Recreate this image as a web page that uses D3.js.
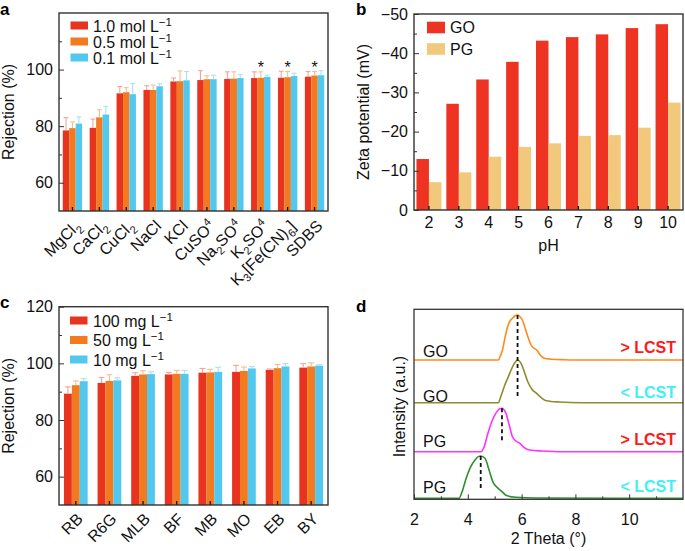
<!DOCTYPE html>
<html><head><meta charset="utf-8">
<script src="https://cdn.jsdelivr.net/npm/d3@7"></script>
<style>body{margin:0;background:#fff}svg{display:block}text{font-family:"Liberation Sans",Arial,Helvetica,sans-serif}</style>
</head><body><svg id="chart" width="685" height="551"></svg>
<script>
// ---------- Panel a data ----------
const saltLabels = ["MgCl_2","CaCl_2","CuCl_2","NaCl","KCl","CuSO^4","Na_2SO^4","K_2SO^4","K_3[Fe(CN)_6]","SDBS"];
const saltSeries = ["1.0 mol L","0.5 mol L","0.1 mol L"];
const salt10 = [78.5, 79.4, 91.6, 92.8, 95.8, 96.3, 96.7, 97.0, 97.1, 97.5];
const salt05 = [79.3, 83.1, 92.0, 92.8, 95.9, 96.6, 96.8, 97.1, 97.3, 97.9];
const salt01 = [80.9, 84.1, 91.3, 94.1, 96.2, 96.6, 97.0, 97.4, 97.7, 98.0];
const salt10Err = [4.5, 3.1, 2.4, 1.5, 1.2, 3.3, 2.5, 2.2, 2.3, 1.8];
const salt05Err = [2.2, 2.7, 1.6, 1.7, 3.6, 1.2, 2.4, 2.1, 2.0, 1.4];
const salt01Err = [2.4, 2.9, 3.8, 0.9, 3.1, 1.4, 1.2, 0.6, 1.0, 1.6];
const saltStars = ["K_2SO^4","K_3[Fe(CN)_6]","SDBS"];
const rejTicks = [60, 80, 100];
const rejMinor = [70, 90, 110];

// ---------- Panel b data ----------
const phValues = [2, 3, 4, 5, 6, 7, 8, 9, 10];
const zetaSeries = ["GO", "PG"];
const zetaGO = [-13.0, -27.1, -33.3, -37.8, -43.2, -44.1, -44.8, -46.4, -47.4];
const zetaPG = [-7.1, -9.6, -13.6, -16.1, -17.0, -18.9, -19.1, -21.0, -27.4];
const zetaTicks = [0, -10, -20, -30, -40, -50];
const zetaMinor = [-5, -15, -25, -35, -45];

// ---------- Panel c data ----------
const dyeLabels = ["RB","R6G","MLB","BF","MB","MO","EB","BY"];
const dyeSeries = ["100 mg L","50 mg L","10 mg L"];
const dye100 = [89.3, 93.1, 95.6, 96.1, 96.7, 97.0, 97.7, 98.5];
const dye50  = [92.3, 93.8, 96.1, 96.3, 96.8, 97.3, 98.3, 98.9];
const dye10  = [93.7, 94.0, 96.2, 96.3, 97.0, 98.2, 98.9, 99.2];
const dye100Err = [2.4, 1.9, 1.1, 0.7, 1.5, 2.3, 0.3, 1.4];
const dye50Err  = [1.5, 2.2, 1.3, 1.2, 1.1, 1.4, 1.3, 1.3];
const dye10Err  = [0.9, 0.9, 0.8, 1.2, 1.6, 0.7, 1.0, 0.3];
const dyeTicks = [60, 80, 100, 120];
const dyeMinor = [70, 90, 110];

// ---------- Panel d data ----------
const xrdNames = ["GO", "GO", "PG", "PG"];
const xrdStates = ["> LCST", "< LCST", "> LCST", "< LCST"];
const xrdOffsets = [13.93, 9.66, 4.76, 0.1];
const xrdGOabove = [[2,0],[5.14,0],[5.2,0.35],[5.29,1.0],[5.38,2.2],[5.48,3.33],[5.57,3.9],[5.66,4.17],[5.76,4.42],[5.85,4.5],[5.95,4.3],[6.04,3.93],[6.12,3.3],[6.19,2.67],[6.27,2.05],[6.35,1.5],[6.45,1.2],[6.56,1.0],[6.62,0.8],[6.69,0.5],[6.77,0.3],[6.85,0.17],[7.1,0.08],[7.6,0.03],[8.2,0],[12,0]];
const xrdGObelow = [[2,0],[5.14,0],[5.2,0.4],[5.29,1.1],[5.38,1.8],[5.48,2.43],[5.61,3.27],[5.73,3.93],[5.85,4.27],[5.98,3.93],[6.1,3.1],[6.23,2.1],[6.39,1.33],[6.56,0.93],[6.73,0.5],[6.92,0.2],[7.41,0.07],[8.2,0],[12,0]];
const xrdPGabove = [[2,0],[4.48,0],[4.61,0.5],[4.73,1.67],[4.89,3.0],[5.04,3.83],[5.17,4.27],[5.27,4.33],[5.42,3.83],[5.54,2.67],[5.66,1.5],[5.79,1.07],[5.94,0.83],[6.1,0.4],[6.29,0.17],[6.78,0.07],[7.5,0],[12,0]];
const xrdPGbelow = [[2,0],[3.67,0],[3.79,0.67],[3.94,2.0],[4.11,3.17],[4.27,3.83],[4.39,4.17],[4.48,4.23],[4.64,4.0],[4.79,2.83],[4.94,1.6],[5.1,1.07],[5.27,0.67],[5.44,0.27],[5.79,0.1],[6.5,0.03],[12,0]];
const xrdCurves = [xrdGOabove, xrdGObelow, xrdPGabove, xrdPGbelow];
const dashX = [5.85, 5.27, 4.48];
const dashTop = [18.43, 9.1, 4.33];
const dashBottom = [10.26, 5.9, 1.1];
const thetaTicks = [2, 4, 6, 8, 10];
const thetaMinor = [3, 5, 7, 9, 11];

// ---------- styles ----------
const FONT = 16;
const barColors = ["#e8331f", "#f27b22", "#52c8ef"];
const errColors = ["#f4a39b", "#f8be8c", "#a7e1f6"];
const zetaColors = ["#ef3322", "#f2c97c"];
const xrdColors = ["#ff8a1c", "#8e8c2c", "#ff33ff", "#2f8f2f"];
const stateColors = ["#ff1a1a", "#3ff0f5", "#ff1a1a", "#3ff0f5"];
const frameColor = "#333";

const svg = d3.select("#chart");

function rich(sel, str, size) {
  // _x subscript, ^x superscript (single char)
  let i = 0, shift = 0;
  let buf = "";
  const flush = () => { if (buf) { sel.append("tspan").attr("dy", -shift).text(buf); shift = 0; buf = ""; } };
  while (i < str.length) {
    const ch = str[i];
    if ((ch === "_" || ch === "^") && i + 1 < str.length) {
      flush();
      const d = ch === "_" ? size * 0.3 : -size * 0.38;
      sel.append("tspan").attr("dy", d - shift).attr("font-size", size * 0.7).text(str[i + 1]);
      shift = d;
      i += 2;
    } else { buf += ch; i++; }
  }
  flush();
}

function frame(g, L, R, T, B, w) {
  g.append("rect").attr("x", L).attr("y", T).attr("width", R - L).attr("height", B - T)
    .attr("fill", "none").attr("stroke", frameColor).attr("stroke-width", w || 1.4);
}

function yAxisLin(g, y, L, ticks, minor, fmt) {
  const ax = g.append("g").attr("transform", `translate(${L},0)`)
    .call(d3.axisLeft(y).tickValues(ticks).tickSize(-5).tickPadding(6).tickFormat(fmt || d3.format("d")));
  ax.select(".domain").remove();
  ax.selectAll("text").attr("font-size", FONT).attr("fill", "#111").style("font-family", null);
  ax.selectAll("line").attr("stroke", frameColor);
  const mx = g.append("g").attr("transform", `translate(${L},0)`)
    .call(d3.axisLeft(y).tickValues(minor).tickSize(-3).tickFormat(""));
  mx.select(".domain").remove();
  mx.selectAll("line").attr("stroke", frameColor);
}

function groupedBarPanel(opt) {
  const g = svg.append("g");
  const { L, R, T, B } = opt;
  const y = d3.scaleLinear().domain(opt.ydom).range([B, T]);
  const x0 = d3.scaleBand().domain(opt.cats).range([L, R]).paddingInner(opt.pad).paddingOuter(opt.pad / 2);
  const x1 = d3.scaleBand().domain(d3.range(opt.series.length)).range([0, x0.bandwidth()]);
  opt.series.forEach((vals, s) => {
    g.selectAll(null).data(vals).join("rect")
      .attr("x", (d, i) => x0(opt.cats[i]) + x1(s))
      .attr("width", x1.bandwidth())
      .attr("y", d => y(d))
      .attr("height", d => y(opt.ydom[0]) - y(d))
      .attr("fill", opt.colors[s]);
  });
  if (opt.errs) opt.errs.forEach((errs, s) => {
    const vals = opt.series[s];
    const cw = x1.bandwidth() * 0.75;
    errs.forEach((e, i) => {
      const cx = x0(opt.cats[i]) + x1(s) + x1.bandwidth() / 2;
      g.append("line").attr("x1", cx).attr("x2", cx).attr("y1", y(vals[i])).attr("y2", y(vals[i] + e))
        .attr("stroke", opt.errColors[s]).attr("stroke-width", 1.1);
      g.append("line").attr("x1", cx - cw / 2).attr("x2", cx + cw / 2).attr("y1", y(vals[i] + e)).attr("y2", y(vals[i] + e))
        .attr("stroke", opt.errColors[s]).attr("stroke-width", 1.1);
    });
  });
  const xa = g.append("g").attr("transform", `translate(0,${B})`)
    .call(d3.axisBottom(x0).tickSize(-4).tickSizeOuter(0).tickFormat(""));
  xa.select(".domain").remove();
  xa.selectAll("line").attr("stroke", "#111").attr("stroke-width", 1.3);
  yAxisLin(g, y, L, opt.yticks, opt.yminor, opt.yfmt);
  frame(g, L, R, T, B);
  return { g, x0, y };
}

// ================= Panel a =================
{
  const L = 59, R = 328, T = 13, B = 211;
  const p = groupedBarPanel({ L, R, T, B, ydom: [50, 120], cats: saltLabels, pad: 0.28,
    series: [salt10, salt05, salt01], errs: [salt10Err, salt05Err, salt01Err],
    colors: barColors, errColors, yticks: rejTicks, yminor: rejMinor });
  const { g, x0 } = p;
  saltLabels.forEach(lab => {
    const cx = x0(lab) + x0.bandwidth() / 2;
    const t = g.append("text").attr("text-anchor", "end").attr("font-size", FONT).attr("fill", "#111")
      .attr("transform", `translate(${cx + 9},${B + 16}) rotate(-45)`);
    rich(t, lab, FONT);
  });
  saltStars.forEach(lab => {
    g.append("text").attr("x", x0(lab) + x0.bandwidth() / 2).attr("y", 73).attr("text-anchor", "middle")
      .attr("font-size", FONT).attr("fill", "#111").text("*");
  });
  saltSeries.forEach((s, i) => {
    const cy = 25.5 + i * 16;
    g.append("rect").attr("x", 70.5).attr("y", cy - 4).attr("width", 17.5).attr("height", 8).attr("fill", barColors[i]);
    const t = g.append("text").attr("x", 93).attr("y", cy + 6).attr("font-size", FONT).attr("fill", "#111");
    t.append("tspan").text(s);
    t.append("tspan").attr("dy", -6).attr("font-size", 11.5).text("−1");
  });
  g.append("text").attr("transform", `translate(14,${(T + B) / 2}) rotate(-90)`).attr("text-anchor", "middle")
    .attr("font-size", FONT).attr("fill", "#111").text("Rejection (%)");
  g.append("text").attr("x", 0).attr("y", 15).attr("font-size", 17).attr("font-weight", "bold").text("a");
}

// ================= Panel b =================
{
  const L = 414, R = 683, T = 14, B = 210;
  const g = svg.append("g");
  const y = d3.scaleLinear().domain([0, -50]).range([B, T]);
  const x0 = d3.scaleBand().domain(phValues).range([L, R]).paddingInner(0.164).paddingOuter(0.082);
  const x1 = d3.scaleBand().domain(zetaSeries).range([0, x0.bandwidth()]);
  [zetaGO, zetaPG].forEach((vals, s) => {
    g.selectAll(null).data(vals).join("rect")
      .attr("x", (d, i) => x0(phValues[i]) + x1(zetaSeries[s]))
      .attr("width", x1.bandwidth())
      .attr("y", d => y(d)).attr("height", d => y(0) - y(d))
      .attr("fill", zetaColors[s]);
  });
  const xa = g.append("g").attr("transform", `translate(0,${B})`)
    .call(d3.axisBottom(x0).tickSize(-4).tickSizeOuter(0).tickPadding(7));
  xa.select(".domain").remove();
  xa.selectAll("line").attr("stroke", "#111").attr("stroke-width", 1.3);
  xa.selectAll("text").attr("font-size", FONT).attr("fill", "#111").style("font-family", null);
  yAxisLin(g, y, L, zetaTicks, zetaMinor, d3.format("d"));
  frame(g, L, R, T, B);
  zetaSeries.forEach((s, i) => {
    const cy = [27.5, 49][i];
    g.append("rect").attr("x", 427).attr("y", cy - 5.8).attr("width", 18).attr("height", 11.6).attr("fill", zetaColors[i]);
    g.append("text").attr("x", 450).attr("y", cy + 5.8).attr("font-size", FONT).attr("fill", "#111").text(s);
  });
  g.append("text").attr("transform", `translate(369,${(T + B) / 2}) rotate(-90)`).attr("text-anchor", "middle")
    .attr("font-size", FONT).attr("fill", "#111").text("Zeta potential (mV)");
  g.append("text").attr("x", (L + R) / 2).attr("y", 251).attr("text-anchor", "middle")
    .attr("font-size", FONT).attr("fill", "#111").text("pH");
  g.append("text").attr("x", 356).attr("y", 15).attr("font-size", 17).attr("font-weight", "bold").text("b");
}

// ================= Panel c =================
{
  const L = 59, R = 328, T = 306.7, B = 505;
  const p = groupedBarPanel({ L, R, T, B, ydom: [50, 120], cats: dyeLabels, pad: 0.295,
    series: [dye100, dye50, dye10], errs: [dye100Err, dye50Err, dye10Err],
    colors: barColors, errColors, yticks: dyeTicks, yminor: dyeMinor });
  const { g, x0 } = p;
  dyeLabels.forEach(lab => {
    const cx = x0(lab) + x0.bandwidth() / 2;
    g.append("text").attr("text-anchor", "end").attr("font-size", FONT).attr("fill", "#111")
      .attr("transform", `translate(${cx + 8},${B + 15}) rotate(-45)`).text(lab);
  });
  dyeSeries.forEach((s, i) => {
    const cy = 320.5 + i * 19.5;
    g.append("rect").attr("x", 70).attr("y", cy - 4).attr("width", 17.5).attr("height", 8).attr("fill", barColors[i]);
    const t = g.append("text").attr("x", 93).attr("y", cy + 6).attr("font-size", FONT).attr("fill", "#111");
    t.append("tspan").text(s);
    t.append("tspan").attr("dy", -6).attr("font-size", 11.5).text("−1");
  });
  g.append("text").attr("transform", `translate(14,${(T + B) / 2}) rotate(-90)`).attr("text-anchor", "middle")
    .attr("font-size", FONT).attr("fill", "#111").text("Rejection (%)");
  g.append("text").attr("x", 0).attr("y", 308).attr("font-size", 17).attr("font-weight", "bold").text("c");
}

// ================= Panel d =================
{
  const L = 414, R = 683, T = 309.3, B = 499.3;
  const g = svg.append("g");
  const x = d3.scaleLinear().domain([2, 12]).range([L, R]);
  const y = d3.scaleLinear().domain([0, 19]).range([B, T]);
  const line = d3.line().x(d => x(d[0])).y(d => y(d[1])).curve(d3.curveMonotoneX);
  xrdCurves.forEach((pts, i) => {
    g.append("path").attr("d", line(pts.map(p => [p[0], p[1] + xrdOffsets[i]])))
      .attr("fill", "none").attr("stroke", xrdColors[i]).attr("stroke-width", 1.6);
  });
  dashX.forEach((dx, i) => {
    g.append("line").attr("x1", x(dx)).attr("x2", x(dx)).attr("y1", y(dashTop[i])).attr("y2", y(dashBottom[i]))
      .attr("stroke", "#111").attr("stroke-width", 1.8).attr("stroke-dasharray", "4,3");
  });
  const xa = g.append("g").attr("transform", `translate(0,${B})`)
    .call(d3.axisBottom(x).tickValues(thetaTicks).tickSize(-5).tickPadding(14).tickFormat(d3.format("d")));
  xa.select(".domain").remove();
  xa.selectAll("line").attr("stroke", frameColor);
  xa.selectAll("text").attr("font-size", FONT).attr("fill", "#111").style("font-family", null);
  const xm = g.append("g").attr("transform", `translate(0,${B})`)
    .call(d3.axisBottom(x).tickValues(thetaMinor).tickSize(-3).tickFormat(""));
  xm.select(".domain").remove();
  xm.selectAll("line").attr("stroke", frameColor);
  frame(g, L, R, T, B, 1.3);
  const nameBase = [357, 401.7, 446.7, 492.7];
  const stateBase = [353, 398.3, 445, 491.7];
  xrdNames.forEach((n, i) => {
    g.append("text").attr("x", 423).attr("y", nameBase[i]).attr("font-size", FONT).attr("fill", "#111").text(n);
    g.append("text").attr("x", 676).attr("y", stateBase[i]).attr("text-anchor", "end").attr("font-size", FONT)
      .attr("font-weight", "bold").attr("fill", stateColors[i]).text(xrdStates[i]);
  });
  g.append("text").attr("transform", `translate(405,${406.5}) rotate(-90)`).attr("text-anchor", "middle")
    .attr("font-size", FONT).attr("fill", "#111").text("Intensity (a.u.)");
  g.append("text").attr("x", (L + R) / 2).attr("y", 544).attr("text-anchor", "middle")
    .attr("font-size", FONT).attr("fill", "#111").text("2 Theta (°)");
  g.append("text").attr("x", 356).attr("y", 311.5).attr("font-size", 17).attr("font-weight", "bold").text("d");
}
</script></body></html>
